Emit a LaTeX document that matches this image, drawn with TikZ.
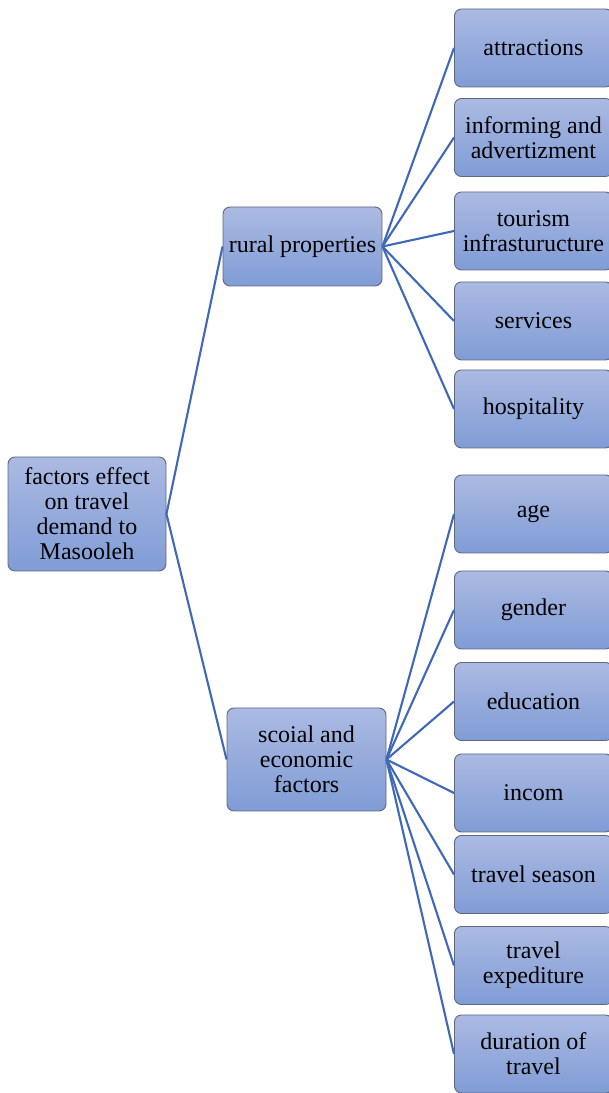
\documentclass[tikz,border=0pt]{standalone}
\usepackage{fontspec}
\setmainfont{Liberation Serif}
\usepackage{tikz}
\usetikzlibrary{positioning}
\definecolor{boxtop}{RGB}{171,186,226}
\definecolor{boxbottom}{RGB}{128,156,214}
\definecolor{boxedge}{RGB}{96,104,124}
\definecolor{linkblue}{RGB}{62,104,184}
\tikzstyle{factor} = [draw=boxedge, line width=0.9pt, rounded corners=7pt,
  top color=boxtop, bottom color=boxbottom, align=center,
  font=\rmfamily\fontsize{24}{25}\selectfont, inner sep=2pt]
\tikzstyle{leaf} = [factor, minimum width=158pt, minimum height=78pt, anchor=west]
\tikzstyle{link} = [line width=2.1pt, color=linkblue]

\begin{document}
\begin{tikzpicture}[x=1pt, y=1pt]
\useasboundingbox (0,0) rectangle (609,1093);
\clip (0,0) rectangle (609,1093);

% root
\node[factor, minimum width=158pt, minimum height=114pt] (root) at (87,579)
  {factors effect\\on travel\\demand to\\Masooleh};

% middle level
\node[factor, minimum width=159pt, minimum height=79pt] (rural) at (302.5,846.5)
  {rural properties};
\node[factor, minimum width=159pt, minimum height=103pt] (social) at (306.5,333.5)
  {scoial and\\economic\\factors};

% rural leaves
\node[leaf] (attr) at (454,1045) {attractions};
\node[leaf] (info) at (454,955.5) {informing and\\advertizment};
\node[leaf] (infra) at (454,862) {tourism\\infrasturucture};
\node[leaf] (serv) at (454,772) {services};
\node[leaf] (hosp) at (454,684) {hospitality};

% social leaves
\node[leaf] (age) at (454,579) {age};
\node[leaf] (gender) at (454,483) {gender};
\node[leaf] (edu) at (454,391.5) {education};
\node[leaf] (incom) at (454,300) {incom};
\node[leaf] (season) at (454,218.5) {travel season};
\node[leaf] (expend) at (454,127.5) {travel\\expediture};
\node[leaf] (dur) at (454,39) {duration of\\travel};

% links
\draw[link] (root.east) -- (rural.west);
\draw[link] (root.east) -- (social.west);

\draw[link] (rural.east) -- (attr.west);
\draw[link] (rural.east) -- (info.west);
\draw[link] (rural.east) -- (infra.west);
\draw[link] (rural.east) -- (serv.west);
\draw[link] (rural.east) -- (hosp.west);

\draw[link] (social.east) -- (age.west);
\draw[link] (social.east) -- (gender.west);
\draw[link] (social.east) -- (edu.west);
\draw[link] (social.east) -- (incom.west);
\draw[link] (social.east) -- (season.west);
\draw[link] (social.east) -- (expend.west);
\draw[link] (social.east) -- (dur.west);
\end{tikzpicture}
\end{document}
